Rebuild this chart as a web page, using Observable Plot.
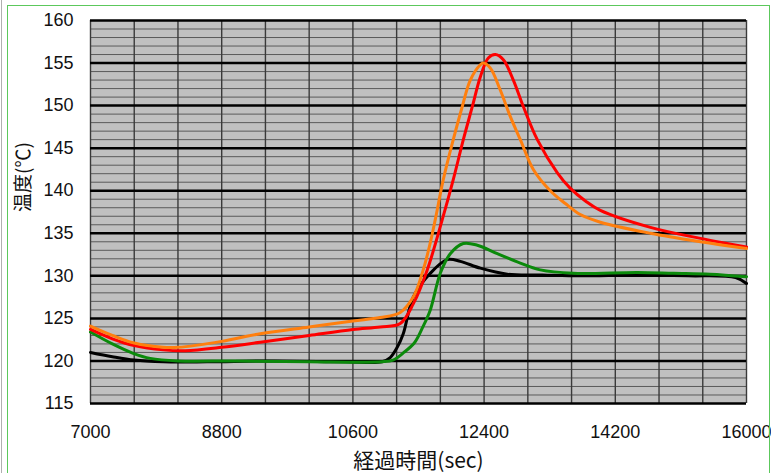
<!DOCTYPE html>
<html>
<head>
<meta charset="utf-8">
<script src="https://cdn.jsdelivr.net/npm/d3@7"></script>
<script src="https://cdn.jsdelivr.net/npm/@observablehq/plot@0.6"></script>
<style>
  html, body { margin: 0; padding: 0; background: #fff; }
  #wrap { position: relative; width: 771px; height: 473px; overflow: hidden; }
  #wrap svg { position: absolute; left: 0; top: 0; z-index: 1; }
  #border { position: absolute; z-index: 2; left: 7px; top: 5px; width: 761px; height: 480px; border: 1.5px solid #5cc85c; box-sizing: content-box; }
  #edge { position: absolute; z-index: 2; left: 1px; top: 0; width: 1px; height: 473px; background: #b0b0b0; }
</style>
</head>
<body>
<div id="wrap"></div>
<script>
const xTicks = [7000, 8800, 10600, 12400, 14200, 16000];
const yTicks = [115, 120, 125, 130, 135, 140, 145, 150, 155, 160];
const xLabel = "経過時間(sec)";
const yLabel = "温度(℃)";

const blackT = [7000, 7300, 7600, 8000, 8600, 9500, 10500, 11000, 11112, 11208, 11291, 11428, 11662, 11895, 12074, 12349, 12718, 13200, 13720, 14500, 15200, 15850, 16000];
const blackV = [121.0, 120.5, 120.1, 119.9, 119.9, 120.0, 119.9, 119.9, 120.4, 121.6, 123.2, 127.5, 130.3, 131.9, 131.7, 130.9, 130.2, 130.1, 130.0, 130.1, 130.0, 129.8, 129.1];

const greenT = [7000, 7300, 7585, 7820, 8200, 9000, 10000, 11000, 11150, 11300, 11450, 11560, 11662, 11799, 11936, 12115, 12307, 12581, 12897, 13171, 13624, 14500, 15000, 15500, 16000];
const greenV = [123.4, 122.0, 120.9, 120.3, 120.0, 120.0, 119.9, 119.9, 120.1, 121.0, 122.2, 124.0, 126.0, 130.3, 132.6, 133.8, 133.6, 132.6, 131.5, 130.7, 130.3, 130.4, 130.3, 130.2, 129.9];

const redT = [7000, 7300, 7600, 8000, 8300, 8800, 9330, 10000, 10600, 10975, 11250, 11428, 11620, 11826, 11977, 12115, 12239, 12349, 12458, 12554, 12664, 12801, 12938, 13130, 13405, 13580, 13790, 13995, 14682, 15368, 16000];
const redV = [123.7, 122.6, 121.8, 121.3, 121.2, 121.6, 122.2, 123.0, 123.7, 124.0, 124.4, 126.7, 130.7, 136.6, 141.3, 146.0, 149.9, 153.4, 155.6, 156.0, 155.4, 153.0, 149.9, 146.0, 142.1, 140.3, 138.8, 137.7, 135.7, 134.4, 133.4];

const orangeT = [7000, 7300, 7600, 8000, 8200, 8800, 9330, 10000, 10600, 10975, 11250, 11428, 11565, 11662, 11730, 11840, 11977, 12101, 12211, 12349, 12390, 12486, 12623, 12760, 12897, 13075, 13308, 13514, 13720, 13995, 14682, 15368, 16000];
const orangeV = [124.1, 123.0, 122.1, 121.6, 121.6, 122.3, 123.2, 124.0, 124.7, 125.1, 125.7, 127.5, 130.7, 133.9, 136.6, 141.3, 146.0, 149.9, 153.0, 154.8, 155.0, 154.4, 151.8, 148.7, 146.0, 142.5, 140.0, 138.5, 137.2, 136.3, 135.0, 134.0, 133.2];

const series = [
  {name: "black", color: "#000000", t: blackT, v: blackV},
  {name: "green", color: "#0b8a0b", t: greenT, v: greenV},
  {name: "red", color: "#ff0000", t: redT, v: redV},
  {name: "orange", color: "#ff7f0e", t: orangeT, v: orangeV}
];

const minorY = d3.range(115, 161, 1).filter(d => d % 5 !== 0);
const vLines = d3.range(7000, 16001, 600);

const font = "'Liberation Sans', Arial, 'Noto Sans CJK JP', sans-serif";

const lineMarks = series.map(s =>
  Plot.line(s.t.map((t, i) => ({t, v: s.v[i]})), {
    x: "t", y: "v", stroke: s.color, strokeWidth: 3, curve: "catmull-rom"
  })
);

const chart = Plot.plot({
  width: 771,
  height: 473,
  marginLeft: 90,
  marginRight: 25,
  marginTop: 20,
  marginBottom: 70,
  style: {fontFamily: font, background: "transparent"},
  x: {domain: [7000, 16000], label: null},
  y: {domain: [115, 160], label: null},
  marks: [
    Plot.rect([0], {x1: 7000, x2: 16000, y1: 115, y2: 160, fill: "#c0c0c0"}),
    Plot.ruleY(minorY, {stroke: "#5a5a5a", strokeWidth: 1}),
    Plot.ruleX(vLines, {stroke: "#3a3a3a", strokeWidth: 1.4}),
    Plot.ruleY(yTicks, {stroke: "#000", strokeWidth: 2.5}),
    ...lineMarks,
    Plot.axisX(xTicks, {tickSize: 0, tickPadding: 22, fontSize: 18, tickFormat: d => String(d), fill: "#111", label: null}),
    Plot.axisY(yTicks, {tickSize: 0, tickPadding: 17, fontSize: 18, tickFormat: d => String(d), fill: "#111", label: null}),
    Plot.text([xLabel], {frameAnchor: "bottom", dy: 64, fontSize: 21, fontFamily: "'Noto Sans CJK JP', sans-serif", fill: "#111"}),
    Plot.text([yLabel], {frameAnchor: "left", dx: -67, rotate: -90, fontSize: 19, fontFamily: "'Noto Sans CJK JP', sans-serif", fill: "#111"})
  ]
});

const wrap = document.getElementById("wrap");
wrap.appendChild(chart);
const edge = document.createElement("div"); edge.id = "edge"; wrap.appendChild(edge);
const border = document.createElement("div"); border.id = "border"; wrap.appendChild(border);
</script>
</body>
</html>
